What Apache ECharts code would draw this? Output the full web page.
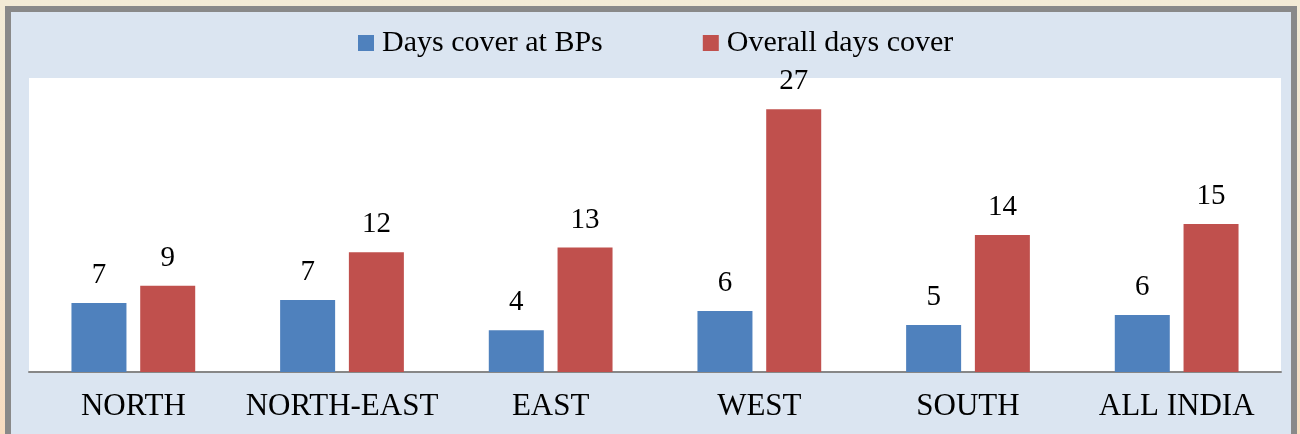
<!DOCTYPE html>
<html>
<head>
<meta charset="utf-8">
<script src="https://cdn.jsdelivr.net/npm/echarts@6/dist/echarts.min.js"></script>
<style>
    html, body { margin: 0; padding: 0; }
    body {
        width: 1300px; height: 434px; overflow: hidden; position: relative;
        background: linear-gradient(180deg, #f3ebd6 0%, #f5e6cf 60%, #f8dcc0 100%);
    }
    #frame {
        position: absolute; left: 5px; top: 6px; width: 1280px; height: 440px;
        border: 6px solid #898989; background: #dbe5f1;
    }
    #myChart { position: absolute; left: 0; top: 0; width: 1300px; height: 434px; }
</style>
</head>
<body>
<div id="frame"></div>
<div id="myChart"></div>
<script>
var categories = ['NORTH', 'NORTH-EAST', 'EAST', 'WEST', 'SOUTH', 'ALL INDIA'];
var daysCoverBPs = [7.08, 7.4, 4.3, 6.26, 4.83, 5.85];
var overallDaysCover = [8.86, 12.3, 12.8, 27.0, 14.07, 15.2];
var seriesNames = ['Days cover at BPs', 'Overall days cover'];

var serif = '"Liberation Serif", "DejaVu Serif", serif';

var myChart = echarts.init(document.getElementById('myChart'));

function barLabel() {
    return {
        show: true,
        position: 'top',
        distance: 13,
        color: '#000',
        fontFamily: serif,
        fontSize: 29,
        formatter: function (p) { return Math.round(p.value); }
    };
}

myChart.setOption({
    animation: false,
    legend: {
        data: seriesNames,
        top: 23,
        left: 353,
        itemWidth: 16,
        itemHeight: 16,
        itemGap: 100,
        icon: 'rect',
        textStyle: {
            color: '#000',
            fontFamily: serif,
            fontSize: 30,
            padding: [0, 0, 0, 3]
        }
    },
    grid: {
        left: 29,
        right: 19,
        top: 78,
        bottom: 62,
        show: true,
        backgroundColor: '#fff',
        borderWidth: 0
    },
    xAxis: {
        type: 'category',
        data: categories,
        axisLine: { lineStyle: { color: '#878787', width: 2 } },
        axisTick: { show: false },
        axisLabel: {
            interval: 0,
            margin: 19,
            color: '#000',
            fontFamily: serif,
            fontSize: 31
        }
    },
    yAxis: {
        type: 'value',
        min: 0,
        max: 30.2,
        show: false,
        splitLine: { show: false }
    },
    series: [
        {
            name: seriesNames[0],
            type: 'bar',
            barWidth: 55,
            barGap: '25%',
            itemStyle: { color: '#4f81bd' },
            label: barLabel(),
            data: daysCoverBPs
        },
        {
            name: seriesNames[1],
            type: 'bar',
            barWidth: 55,
            itemStyle: { color: '#c0504d' },
            label: barLabel(),
            data: overallDaysCover
        }
    ]
});
</script>
</body>
</html>
